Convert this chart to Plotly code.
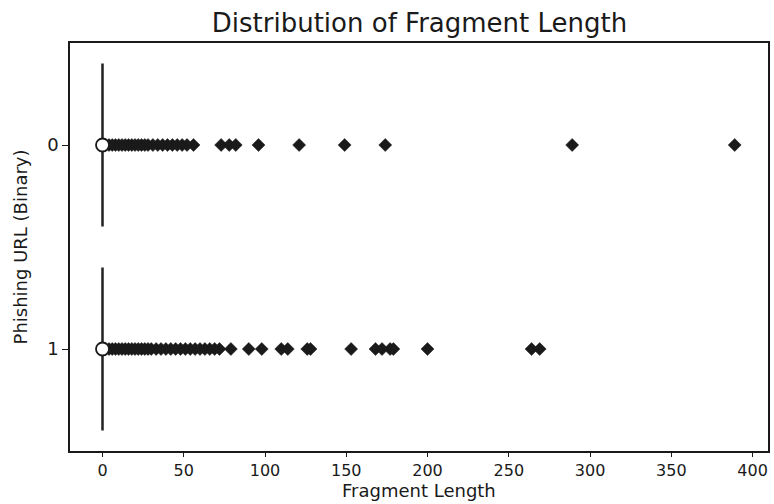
import plotly.graph_objects as go

categories = [0, 1]
tick_labels = ["0", "1"]
outliers_0 = [2, 4, 6, 8, 10, 12, 14, 16, 18, 20, 22, 24, 26, 28, 31, 34, 37, 40, 43,
              46, 49, 52, 56, 73, 78, 82, 96, 121, 149, 174, 289, 389]
outliers_1 = [2, 4, 6, 8, 10, 12, 14, 16, 18, 20, 22, 24, 26, 28, 30, 33, 36, 39, 42,
              45, 48, 51, 54, 57, 60, 63, 66, 69, 72, 79, 90, 98, 110, 114, 126, 128,
              153, 168, 172, 177, 179, 200, 264, 269]
q1 = [0, 0]
median = [0, 0]
q3 = [0, 0]
lower = [0, 0]
upper = [0, 0]
means = [0, 0]
x_ticks = [0, 50, 100, 150, 200, 250, 300, 350, 400]

fig = go.Figure()
fig.add_trace(go.Box(
    y=categories, q1=q1, median=median, q3=q3,
    lowerfence=lower, upperfence=upper,
    orientation="h", width=0.8,
    line=dict(color="#222222", width=2.5),
    fillcolor="#222222", boxpoints=False, showlegend=False,
    hoverinfo="skip",
))
for cat, vals in zip(categories, [outliers_0, outliers_1]):
    fig.add_trace(go.Scatter(
        x=vals, y=[cat] * len(vals), mode="markers",
        marker=dict(symbol="diamond", size=10, color="#1a1a1a",
                    line=dict(color="#1a1a1a", width=0.5)),
        showlegend=False,
    ))
fig.add_trace(go.Scatter(
    x=means, y=categories, mode="markers",
    marker=dict(symbol="circle", size=13, color="white",
                line=dict(color="#1a1a1a", width=1.8)),
    showlegend=False,
))

fig.update_layout(
    width=774, height=504,
    margin=dict(l=70, r=6, t=43, b=53),
    paper_bgcolor="white", plot_bgcolor="white",
    font=dict(family="DejaVu Sans", color="#1a1a1a"),
    title=dict(text="Distribution of Fragment Length", x=0.542, xanchor="center",
               y=0.955, yanchor="middle", font=dict(size=26)),
    annotations=[
        dict(text="Fragment Length", xref="paper", yref="paper", x=0.5, y=-0.1275,
             xanchor="center", yanchor="bottom", showarrow=False,
             font=dict(size=18)),
        dict(text="Phishing URL (Binary)", xref="paper", yref="paper",
             x=-0.071, y=0.5, xanchor="center", yanchor="middle", textangle=-90,
             showarrow=False, font=dict(size=18)),
    ],
)
fig.update_xaxes(
    range=[-20, 409.5], tickvals=x_ticks, ticks="outside", ticklen=4,
    tickcolor="#1a1a1a", tickfont=dict(size=16), showgrid=False, zeroline=False,
    showline=True, linecolor="#1a1a1a", linewidth=1.5, mirror=True,
    automargin=False,
)
fig.update_yaxes(
    range=[1.5, -0.5], tickvals=categories, ticktext=tick_labels, ticks="outside",
    ticklen=6, tickcolor="#1a1a1a", tickfont=dict(size=18), showgrid=False,
    zeroline=False, showline=True, linecolor="#1a1a1a", linewidth=1.5, mirror=True,
    automargin=False,
)
fig.write_html("out.html", post_script="document.body.style.margin='0';",
               config={"displayModeBar": False})
